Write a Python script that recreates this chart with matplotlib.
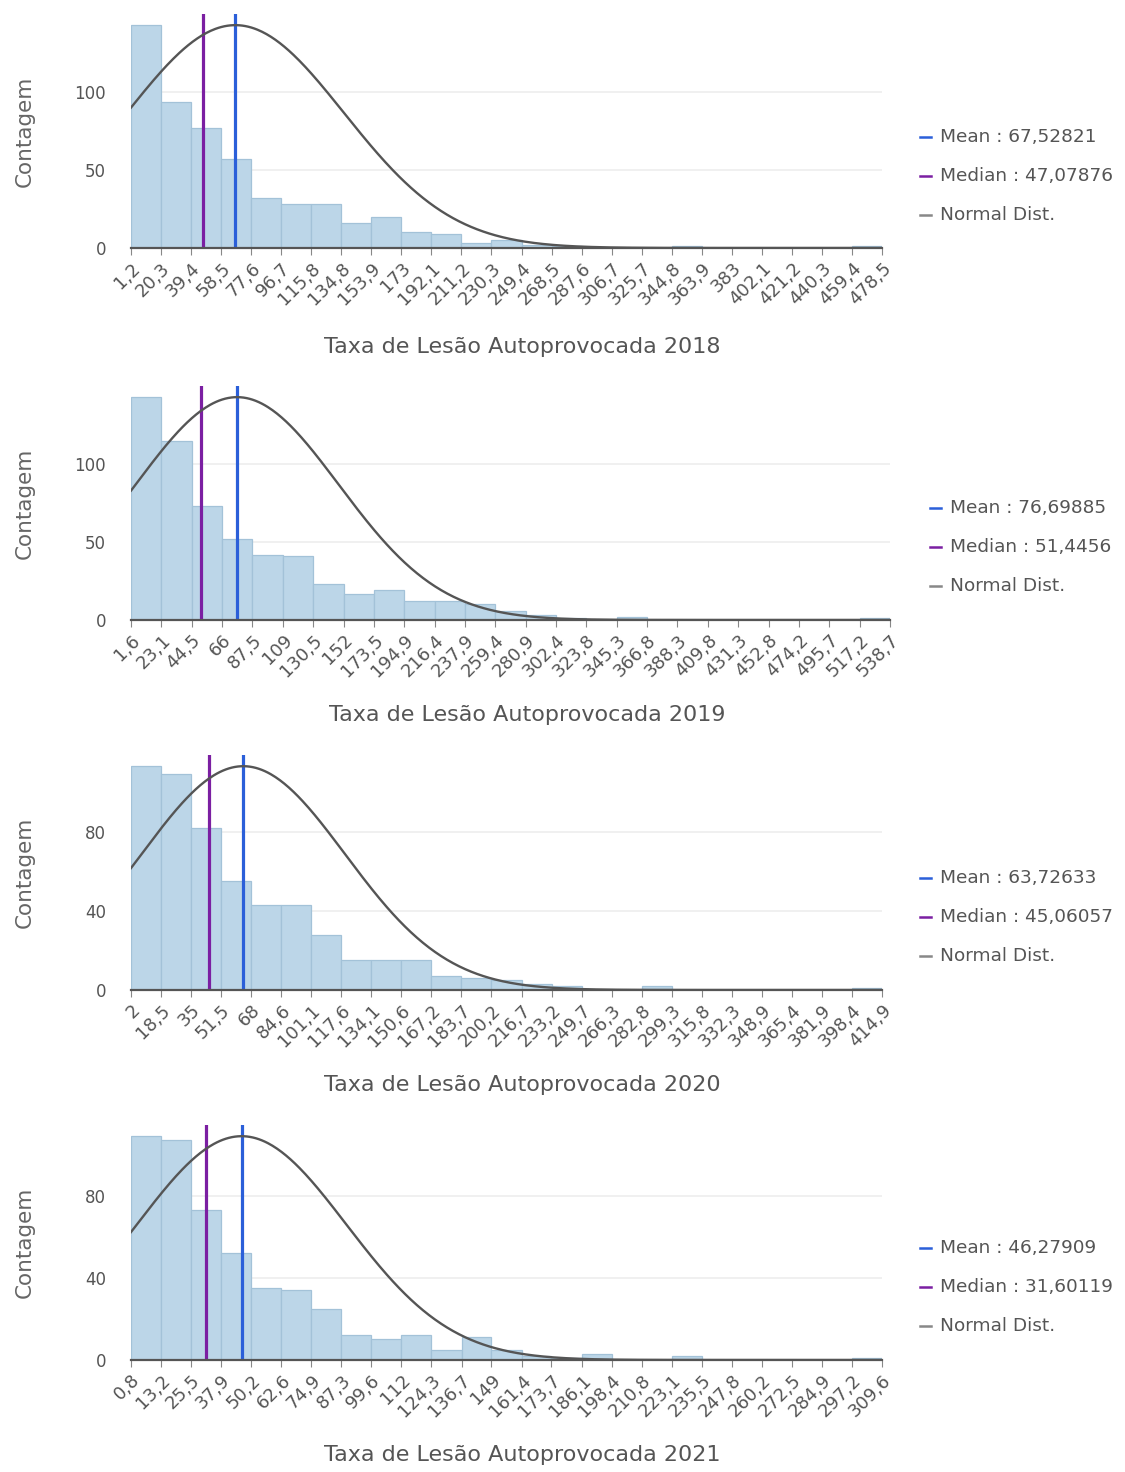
import numpy as np
import matplotlib
matplotlib.use("Agg")
import matplotlib.pyplot as plt
from matplotlib.lines import Line2D

plt.rcParams['font.family'] = ['DejaVu Sans']

W, H = 1125, 1472

years = ["2018", "2019", "2020", "2021"]

edges_2018 = ["1,2", "20,3", "39,4", "58,5", "77,6", "96,7", "115,8", "134,8", "153,9", "173",
              "192,1", "211,2", "230,3", "249,4", "268,5", "287,6", "306,7", "325,7", "344,8",
              "363,9", "383", "402,1", "421,2", "440,3", "459,4", "478,5"]
edges_2019 = ["1,6", "23,1", "44,5", "66", "87,5", "109", "130,5", "152", "173,5", "194,9",
              "216,4", "237,9", "259,4", "280,9", "302,4", "323,8", "345,3", "366,8", "388,3",
              "409,8", "431,3", "452,8", "474,2", "495,7", "517,2", "538,7"]
edges_2020 = ["2", "18,5", "35", "51,5", "68", "84,6", "101,1", "117,6", "134,1", "150,6",
              "167,2", "183,7", "200,2", "216,7", "233,2", "249,7", "266,3", "282,8", "299,3",
              "315,8", "332,3", "348,9", "365,4", "381,9", "398,4", "414,9"]
edges_2021 = ["0,8", "13,2", "25,5", "37,9", "50,2", "62,6", "74,9", "87,3", "99,6", "112",
              "124,3", "136,7", "149", "161,4", "173,7", "186,1", "198,4", "210,8", "223,1",
              "235,5", "247,8", "260,2", "272,5", "284,9", "297,2", "309,6"]

counts_2018 = [143, 94, 77, 57, 32, 28, 28, 16, 20, 10, 9, 3, 5, 2, 1, 0, 0, 0, 1, 0, 0, 0, 0, 0, 1]
counts_2019 = [143, 115, 73, 52, 42, 41, 23, 17, 19, 12, 12, 10, 6, 3, 1, 0, 2, 0, 0, 0, 0, 0, 0, 0, 1]
counts_2020 = [113, 109, 82, 55, 43, 43, 28, 15, 15, 15, 7, 6, 5, 3, 2, 0, 0, 2, 0, 0, 0, 0, 0, 0, 1]
counts_2021 = [109, 107, 73, 52, 35, 34, 25, 12, 10, 12, 5, 11, 5, 2, 1, 3, 0, 0, 2, 0, 0, 0, 0, 0, 1]

mean_labels = ["67,52821", "76,69885", "63,72633", "46,27909"]
median_labels = ["47,07876", "51,4456", "45,06057", "31,60119"]
normal_sd = [69, 72, 56, 43]   # estimated spread of the fitted normal curve

y_ticks = [[0, 50, 100], [0, 50, 100], [0, 40, 80], [0, 40, 80]]

edges_all = [edges_2018, edges_2019, edges_2020, edges_2021]
counts_all = [counts_2018, counts_2019, counts_2020, counts_2021]

# layout in pixels (left, right, top, bottom) of plot areas
boxes = [(131, 882, 14, 248), (131, 890, 386, 620), (131, 882, 755, 990), (131, 882, 1125, 1360)]
xlabel_xy = [(522, 347), (527, 715), (522, 1085), (522, 1455)]
legend_pos = [(920, 137), (930, 508), (920, 878), (920, 1248)]

BAR = "#bcd6e8"
BAR_EDGE = "#a3c2d8"
MEAN_C = "#2b5fd9"
MEDIAN_C = "#7b1fa2"
NORM_C = "#555555"
TXT = "#555555"

fig = plt.figure(figsize=(W / 100, H / 100), dpi=100)
fig.patch.set_facecolor("white")

def tofloat(s):
    return float(s.replace(",", "."))

for i in range(4):
    l, r, t, b = boxes[i]
    ax = fig.add_axes([l / W, 1 - b / H, (r - l) / W, (b - t) / H])
    edges = np.array([tofloat(s) for s in edges_all[i]])
    counts = np.array(counts_all[i])
    mean = tofloat(mean_labels[i])
    median = tofloat(median_labels[i])
    peak = counts.max()
    ytop = peak * 1.05

    ax.bar(edges[:-1], counts, width=np.diff(edges), align="edge", color=BAR,
           edgecolor=BAR_EDGE, linewidth=0.9, zorder=2)
    ax.axvline(median, color=MEDIAN_C, lw=2.3, zorder=3)
    ax.axvline(mean, color=MEAN_C, lw=2.3, zorder=3)
    xs = np.linspace(edges[0], edges[-1], 500)
    ys = peak * np.exp(-(xs - mean) ** 2 / (2 * normal_sd[i] ** 2))
    ax.plot(xs, ys, color=NORM_C, lw=1.7, zorder=4)

    ax.set_xlim(edges[0], edges[-1])
    ax.set_ylim(0, ytop)
    ax.set_xticks(edges)
    ax.set_xticklabels(edges_all[i], rotation=45, ha="right", va="top",
                       rotation_mode="anchor", fontsize=13, color=TXT)
    ax.set_yticks(y_ticks[i])
    ax.set_yticklabels([str(v) for v in y_ticks[i]], fontsize=12, color=TXT)
    ax.tick_params(axis="y", length=0, pad=18)
    ax.tick_params(axis="x", length=5, color="#888888", pad=3)
    for s in ["top", "right", "left"]:
        ax.spines[s].set_visible(False)
    ax.spines["bottom"].set_color("#555555")
    ax.spines["bottom"].set_linewidth(1.6)
    ax.spines["bottom"].set_zorder(5)
    ax.yaxis.grid(True, color="#eeeeee", lw=1.2, zorder=0)
    ax.set_axisbelow(True)
    ax.set_ylabel("Contagem", fontsize=15.5, color="#666666")
    ax.yaxis.set_label_coords(-(l - 25) / (r - l), 0.5)
    ax.yaxis.label.set_va("center")

    xlx, xly = xlabel_xy[i]
    fig.text(xlx / W, 1 - xly / H, "Taxa de Lesão Autoprovocada " + years[i],
             fontsize=16, color="#555555", ha="center", va="center")

    lx, ly = legend_pos[i]
    entries = [("Mean : " + mean_labels[i], MEAN_C),
               ("Median : " + median_labels[i], MEDIAN_C),
               ("Normal Dist.", "#888888")]
    for k, (txt, c) in enumerate(entries):
        yy = ly + k * 39
        fig.add_artist(Line2D([lx / W, (lx + 11) / W], [1 - yy / H, 1 - yy / H],
                              transform=fig.transFigure, color=c, lw=1.8))
        fig.text((lx + 20) / W, 1 - yy / H, txt, fontsize=13.3, color="#555555",
                 va="center", ha="left")

fig.savefig("out.png", dpi=100, facecolor="white")
